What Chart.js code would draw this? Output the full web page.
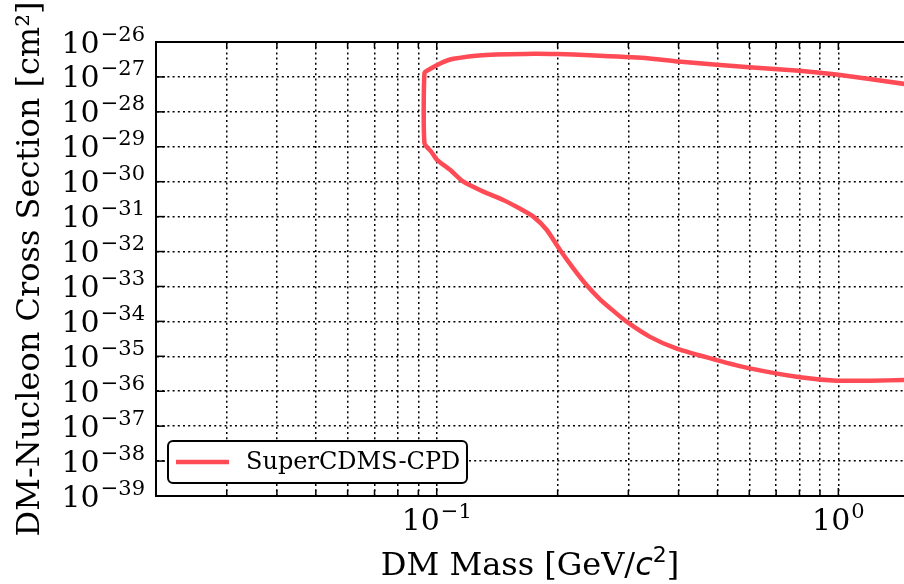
<!DOCTYPE html>
<html>
<head>
<meta charset="utf-8">
<script src="https://cdn.jsdelivr.net/npm/chart.js@4.4.0/dist/chart.umd.min.js"></script>
<style>
  html, body { margin: 0; padding: 0; background: #fff; }
  #wrap { width: 904px; height: 584px; }
</style>
</head>
<body>
<div id="wrap"><canvas id="limitChart" width="904" height="584"></canvas></div>
<script>
// Exclusion contour, followed along the curve:
// upper branch from right to left, down the vertical edge, then lower branch left to right
const massGeV = [
  1.46, 1.0, 0.8, 0.6, 0.4, 0.33, 0.24, 0.2, 0.175, 0.13, 0.11, 0.1037, 0.0955, 0.0932,
  0.0932, 0.0969, 0.1, 0.1079, 0.1165, 0.1306, 0.1464, 0.161, 0.174, 0.1878, 0.2026, 0.2188, 0.236,
  0.255, 0.2753, 0.297, 0.3397, 0.396, 0.498, 0.6026, 0.803, 0.991, 1.2, 1.46
];
const crossSection = [
  6.3e-28, 1.15e-27, 1.5e-27, 1.9e-27, 2.75e-27, 3.5e-27, 4.2e-27, 4.5e-27, 4.6e-27, 4.2e-27, 3.3e-27, 2.65e-27, 1.6e-27, 1.29e-27,
  1.26e-29, 7.2e-30, 4.3e-30, 2.2e-30, 1.0e-30, 5.2e-31, 3.0e-31, 1.7e-31, 1.0e-31, 4.2e-32, 1.12e-32, 3.3e-33, 1.1e-33,
  4.3e-34, 2.0e-34, 9.8e-35, 3.6e-35, 1.65e-35, 7.8e-36, 4.5e-36, 2.5e-36, 2.0e-36, 2.0e-36, 2.1e-36
];

const xGridValues = [0.02, 0.03, 0.04, 0.05, 0.06, 0.07, 0.08, 0.09, 0.1,
                     0.2, 0.3, 0.4, 0.5, 0.6, 0.7, 0.8, 0.9, 1.0];
const xTickExponents = [-1, 0];
const yTickExponents = [-39, -38, -37, -36, -35, -34, -33, -32, -31, -30, -29, -28, -27, -26];

const SERIF = '"DejaVu Serif", serif';
const RED = '#ff4b55';

// "10" with a raised exponent, like matplotlib's log labels
function drawPower(ctx, exp, xAnchor, baseY, align) {
  const sup = String(exp).replace('-', '\u2212');
  ctx.font = '30px ' + SERIF;
  const wb = ctx.measureText('10').width;
  ctx.font = '21px ' + SERIF;
  const ws = ctx.measureText(sup).width;
  const total = wb + 1 + ws;
  const x0 = align === 'right' ? xAnchor - total : xAnchor - total / 2;
  ctx.textAlign = 'left';
  ctx.textBaseline = 'alphabetic';
  ctx.font = '30px ' + SERIF;
  ctx.fillText('10', x0, baseY);
  ctx.font = '21px ' + SERIF;
  ctx.fillText(sup, x0 + wb + 1, baseY - 12);
}

const axisDecor = {
  id: 'axisDecor',
  afterDraw(chart) {
    const { ctx, chartArea: a, scales: { x, y } } = chart;
    ctx.save();
    ctx.fillStyle = '#000';
    ctx.strokeStyle = '#000';

    // top spine
    ctx.lineWidth = 2;
    ctx.beginPath();
    ctx.moveTo(a.left - 1, a.top);
    ctx.lineTo(a.right, a.top);
    ctx.stroke();

    // inward tick marks
    ctx.lineWidth = 1.5;
    xGridValues.forEach(v => {
      const px = x.getPixelForValue(v);
      const len = (v === 0.1 || v === 1.0) ? 8 : 6;
      ctx.beginPath();
      ctx.moveTo(px, a.bottom); ctx.lineTo(px, a.bottom - len);
      ctx.moveTo(px, a.top); ctx.lineTo(px, a.top + len);
      ctx.stroke();
    });
    yTickExponents.forEach(e => {
      const py = y.getPixelForValue(Math.pow(10, e));
      ctx.beginPath();
      ctx.moveTo(a.left, py); ctx.lineTo(a.left + 9, py);
      ctx.stroke();
    });

    // tick labels
    yTickExponents.forEach(e => {
      const py = y.getPixelForValue(Math.pow(10, e));
      drawPower(ctx, e, 145, py + 10.5, 'right');
    });
    xTickExponents.forEach(e => {
      const px = x.getPixelForValue(Math.pow(10, e));
      drawPower(ctx, e, px, 529.5, 'center');
    });

    // x axis title, with italic c as in mathtext
    const parts = [
      { t: 'DM Mass [GeV/', f: '32px ' + SERIF, dy: 0 },
      { t: 'c', f: 'italic 32px "DejaVu Sans"', dy: 0 },
      { t: '2', f: '22px "DejaVu Sans"', dy: -13 },
      { t: ']', f: '32px ' + SERIF, dy: 0 }
    ];
    let total = 0;
    parts.forEach(p => { ctx.font = p.f; p.w = ctx.measureText(p.t).width; total += p.w; });
    let cx = (a.left + a.right) / 2 - total / 2;
    ctx.textAlign = 'left';
    ctx.textBaseline = 'alphabetic';
    parts.forEach(p => {
      ctx.font = p.f;
      ctx.fillText(p.t, cx, 575 + p.dy);
      cx += p.w;
    });

    // legend box in the lower left corner
    const lx = 168, ly = 441, lw = 299, lh = 42, r = 5;
    ctx.beginPath();
    ctx.moveTo(lx + r, ly);
    ctx.arcTo(lx + lw, ly, lx + lw, ly + lh, r);
    ctx.arcTo(lx + lw, ly + lh, lx, ly + lh, r);
    ctx.arcTo(lx, ly + lh, lx, ly, r);
    ctx.arcTo(lx, ly, lx + lw, ly, r);
    ctx.closePath();
    ctx.fillStyle = '#fff';
    ctx.fill();
    ctx.lineWidth = 2;
    ctx.strokeStyle = '#000';
    ctx.stroke();
    ctx.strokeStyle = RED;
    ctx.lineWidth = 4.5;
    ctx.beginPath();
    ctx.moveTo(176, 462); ctx.lineTo(229, 462);
    ctx.stroke();
    ctx.fillStyle = '#000';
    ctx.font = '24px ' + SERIF;
    ctx.textBaseline = 'middle';
    ctx.fillText(chart.data.datasets[0].label, 246, 463);

    ctx.restore();
  }
};

const points = massGeV.map((m, i) => ({ x: m, y: crossSection[i] }));

const ctx = document.getElementById('limitChart').getContext('2d');
new Chart(ctx, {
  type: 'scatter',
  data: {
    datasets: [{
      label: 'SuperCDMS-CPD',
      data: points,
      showLine: true,
      borderColor: RED,
      backgroundColor: RED,
      borderWidth: 4.5,
      borderJoinStyle: 'round',
      pointRadius: 0,
      tension: 0.2
    }]
  },
  options: {
    responsive: false,
    devicePixelRatio: 1,
    animation: false,
    layout: { padding: { top: 42, right: 0, bottom: 0, left: 0 } },
    plugins: {
      legend: { display: false },
      tooltip: { enabled: false }
    },
    scales: {
      x: {
        type: 'logarithmic',
        min: 0.02,
        max: 1.457,
        afterBuildTicks: s => { s.ticks = xGridValues.map(v => ({ value: v })); },
        afterFit: s => { s.height = 88; },
        ticks: { display: false },
        grid: { color: '#000', lineWidth: 1.5, drawTicks: false, tickLength: 0 },
        border: { display: true, color: '#000', width: 2, dash: [2, 3.2] },
        title: { display: false }
      },
      y: {
        type: 'logarithmic',
        min: 1e-39,
        max: 1e-26,
        afterBuildTicks: s => { s.ticks = yTickExponents.map(e => ({ value: Math.pow(10, e) })); },
        afterFit: s => { s.width = 156; },
        ticks: { display: false },
        grid: { color: '#000', lineWidth: 1.5, drawTicks: false, tickLength: 0 },
        border: { display: true, color: '#000', width: 2, dash: [2, 3.2] },
        title: {
          display: true,
          text: 'DM-Nucleon Cross Section [cm\u00b2]',
          color: '#000',
          font: { family: 'DejaVu Serif', size: 32, weight: 'normal' },
          padding: { top: 11, bottom: 0 }
        }
      }
    }
  },
  plugins: [axisDecor]
});
</script>
</body>
</html>
